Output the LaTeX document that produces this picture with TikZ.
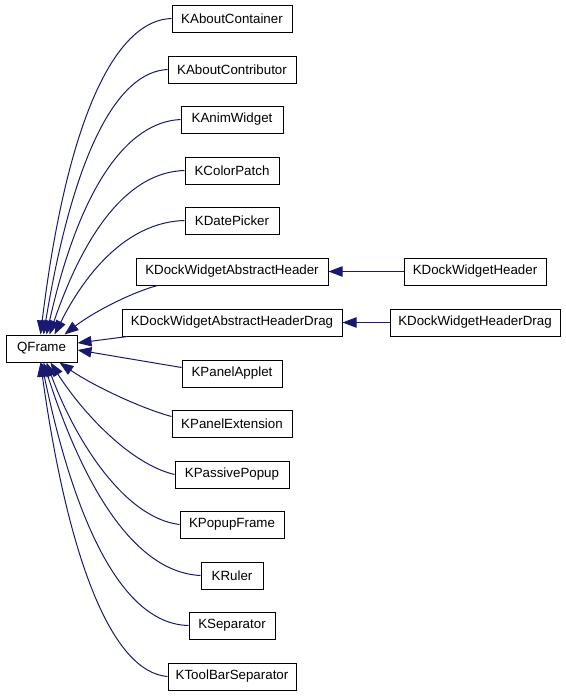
\documentclass[tikz,border=0pt]{standalone}
\usepackage{fontspec}
\setmainfont{Liberation Sans}
\usetikzlibrary{arrows.meta,calc}
\definecolor{edgecol}{HTML}{191970}
\begin{document}
\begin{tikzpicture}[x=0.75pt,y=-0.75pt,
  cls/.style={draw=black,fill=white,line width=0.75pt,inner sep=0pt,minimum height=20.25pt,font=\fontsize{10pt}{12pt}\selectfont},
  edge/.style={draw=edgecol,line width=0.75pt,-{Triangle[length=10.5pt,width=7.8pt]}}]
\useasboundingbox (0,0) rectangle (565,696);
\node[cls,minimum width=53.25pt] (qf) at (41.5,348.5) {QFrame};
\node[cls,minimum width=90pt] (kac) at (232,18.5) {KAboutContainer};
\node[cls,minimum width=96pt] (kacb) at (232,69.5) {KAboutContributor};
\node[cls,minimum width=76.5pt] (kaw) at (232,119.5) {KAnimWidget};
\node[cls,minimum width=70.5pt] (kcp) at (232,170.5) {KColorPatch};
\node[cls,minimum width=70.5pt] (kdp) at (232,220.5) {KDatePicker};
\node[cls,minimum width=144pt] (kdah) at (232,271.5) {KDockWidgetAbstractHeader};
\node[cls,minimum width=106.5pt] (kdh) at (475,271.5) {KDockWidgetHeader};
\node[cls,minimum width=165pt] (kdahd) at (232,322.5) {KDockWidgetAbstractHeaderDrag};
\node[cls,minimum width=127.5pt] (kdhd) at (475,322.5) {KDockWidgetHeaderDrag};
\node[cls,minimum width=75pt] (kpa) at (232,373.5) {KPanelApplet};
\node[cls,minimum width=90pt] (kpe) at (232,423.5) {KPanelExtension};
\node[cls,minimum width=85.5pt] (kpp) at (232,474.5) {KPassivePopup};
\node[cls,minimum width=78pt] (kpf) at (232,524.5) {KPopupFrame};
\node[cls,minimum width=46.5pt] (kr) at (232,575.5) {KRuler};
\node[cls,minimum width=64.5pt] (ks) at (232,625.5) {KSeparator};
\node[cls,minimum width=96pt] (ktbs) at (232,676.5) {KToolBarSeparator};
% top edges
\draw[edge] (kac.west) .. controls (118,20) and (68,110) .. ($(qf.north west)+(35,0)$);
\draw[edge] (kacb.west) .. controls (118,72) and (74,150) .. ($(qf.north west)+(38,0)$);
\draw[edge] (kaw.west) .. controls (128,122) and (80,185) .. ($(qf.north west)+(41,0)$);
\draw[edge] (kcp.west) .. controls (130,172) and (86,228) .. ($(qf.north west)+(44,0)$);
\draw[edge] (kdp.west) .. controls (130,222) and (88,268) .. ($(qf.north west)+(49,0)$);
\draw[edge] ($(kdah.south west)+(22,0)$) .. controls (130,293) and (92,313) .. ($(qf.north west)+(59,0)$);
\draw[edge] ($(kdahd.south west)+(6,0)$) -- ($(qf.east)+(0,-5.5)$);
\draw[edge] ($(kpa.west)+(0,-6)$) -- ($(qf.east)+(0,1.5)$);
% bottom edges
\draw[edge] ($(kpe.west)+(0,-7)$) .. controls (140,408) and (92,385) .. ($(qf.south west)+(54,0)$);
\draw[edge] (kpp.west) .. controls (130,464) and (82,412) .. ($(qf.south west)+(45,0)$);
\draw[edge] (kpf.west) .. controls (125,518) and (76,442) .. ($(qf.south west)+(41,0)$);
\draw[edge] (kr.west) .. controls (128,572) and (78,470) .. ($(qf.south west)+(38,0)$);
\draw[edge] (ks.west) .. controls (118,624) and (72,510) .. ($(qf.south west)+(36,0)$);
\draw[edge] (ktbs.west) .. controls (112,672) and (68,560) .. ($(qf.south west)+(35,0)$);
% right edges
\draw[edge] (kdh.west) -- (kdah.east);
\draw[edge] (kdhd.west) -- (kdahd.east);
\end{tikzpicture}
\end{document}
